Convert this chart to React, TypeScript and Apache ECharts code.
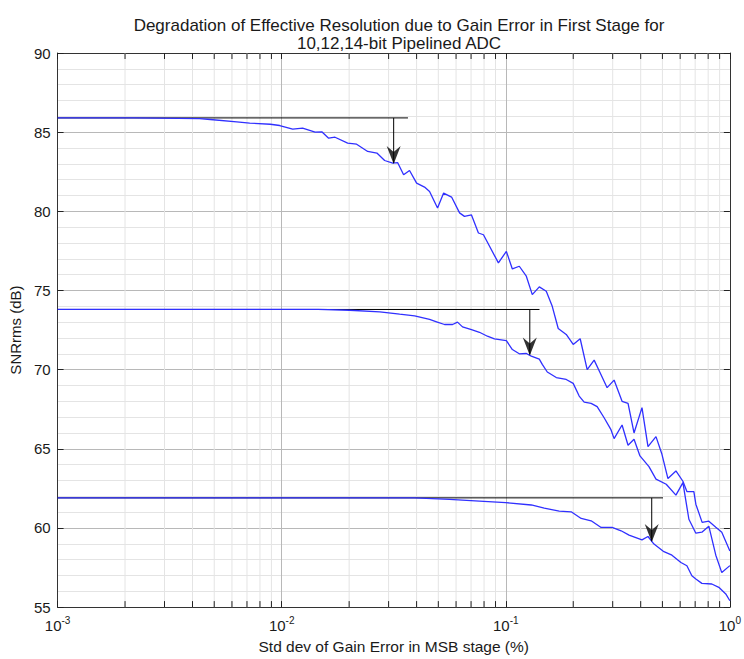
import React, { useEffect, useRef } from "react";
import * as echarts from "echarts";

// Std dev of gain error (%) and SNR (dB) for each resolution
const x14 = [0.001, 0.0022, 0.0043, 0.0048, 0.0063, 0.0072, 0.0089, 0.0098, 0.0112, 0.0124, 0.0141, 0.0151, 0.0162, 0.0173, 0.0197, 0.0216, 0.0242, 0.0266, 0.0288, 0.0313, 0.0329, 0.035, 0.0372, 0.04, 0.0434, 0.0457, 0.0496, 0.0528, 0.0573, 0.0622, 0.0654, 0.0703, 0.0755, 0.0795, 0.0927, 0.1006, 0.107, 0.1149, 0.1235, 0.1313, 0.1411, 0.1516, 0.1612, 0.1714, 0.1861, 0.1999, 0.2148, 0.2308, 0.2479, 0.2636, 0.2833, 0.3043, 0.3303, 0.3512, 0.3735, 0.4053, 0.4311, 0.468, 0.4976, 0.5292, 0.5745, 0.6172, 0.643, 0.6907, 0.705, 0.752, 0.8055, 0.8654, 0.9202, 1.0];
const snr14 = [85.9, 85.9, 85.85, 85.8, 85.65, 85.57, 85.5, 85.42, 85.19, 85.25, 85.0, 85.02, 84.62, 84.68, 84.31, 84.24, 83.78, 83.68, 83.21, 83.05, 83.08, 82.31, 82.58, 81.78, 81.53, 81.25, 80.21, 81.15, 80.9, 79.9, 79.68, 79.77, 78.63, 78.52, 76.74, 77.47, 76.36, 76.53, 75.9, 74.74, 75.23, 74.95, 74.0, 72.6, 72.22, 71.59, 71.95, 70.0, 70.6, 69.8, 68.86, 69.34, 68.0, 67.87, 66.0, 67.6, 65.14, 65.77, 64.65, 63.12, 63.6, 62.95, 62.3, 62.3, 61.5, 60.35, 60.43, 60.05, 59.73, 58.54];

const x12 = [0.001, 0.0145, 0.0201, 0.0274, 0.0336, 0.0392, 0.0457, 0.0491, 0.0533, 0.0579, 0.0609, 0.0641, 0.0703, 0.0763, 0.0828, 0.089, 0.1006, 0.107, 0.1149, 0.1235, 0.13, 0.1411, 0.1455, 0.1532, 0.168, 0.1861, 0.1999, 0.2126, 0.2238, 0.2404, 0.2557, 0.2747, 0.2942, 0.3043, 0.3303, 0.3512, 0.3735, 0.397, 0.4355, 0.468, 0.52, 0.5745, 0.6172, 0.6563, 0.705, 0.7499, 0.8055, 0.8654, 0.9202, 1.0];
const snr12 = [73.8, 73.8, 73.75, 73.65, 73.5, 73.4, 73.17, 73.02, 72.85, 72.85, 73.0, 72.7, 72.53, 72.36, 72.11, 71.94, 71.83, 71.27, 71.0, 71.02, 70.85, 70.66, 70.33, 69.85, 69.5, 69.38, 69.13, 68.33, 67.95, 67.87, 67.66, 66.96, 66.23, 65.64, 66.5, 65.22, 65.6, 64.55, 63.87, 63.08, 62.76, 62.07, 62.86, 60.55, 59.67, 59.73, 60.11, 58.28, 57.18, 57.62];

const x10 = [0.001, 0.0392, 0.0561, 0.0763, 0.1, 0.13, 0.1485, 0.1732, 0.1958, 0.217, 0.2404, 0.2663, 0.2981, 0.327, 0.3549, 0.4053, 0.4311, 0.4585, 0.5078, 0.5514, 0.6047, 0.643, 0.6767, 0.705, 0.7499, 0.8305, 0.8925, 0.9587, 1.0];
const snr10 = [61.9, 61.9, 61.8, 61.7, 61.6, 61.45, 61.25, 61.06, 61.02, 60.6, 60.45, 60.03, 60.03, 59.82, 59.55, 59.25, 59.46, 58.98, 58.5, 58.28, 57.82, 57.61, 56.98, 56.77, 56.5, 56.46, 56.25, 55.83, 55.4];

// Ideal SNR levels, the -3 dB markers and where the reference lines end
const idealSnr = [85.9, 73.8, 61.9];
const refLineEnd = [0.0366, 0.1414, 0.503];
const arrowX = [0.0316, 0.128, 0.448];
const arrowTip = [83.05, 70.96, 59.18];

const xMin = 0.001;
const xMax = 1;
const yMin = 55;
const yMax = 90;

// Log-axis minor ticks (2..9 within each decade)
const minorTicks: number[] = [];
for (const decade of [0.001, 0.01, 0.1]) {
  for (let m = 2; m <= 9; m++) minorTicks.push(+(m * decade).toPrecision(3));
}

const FONT = "'Liberation Sans', Arial, Helvetica, sans-serif";
const BLUE = "#3030ff";
const TEXT = "#1a1a1a";

export default function App() {
  const ref = useRef<HTMLDivElement>(null);

  useEffect(() => {
    if (!ref.current) return;
    const chart = echarts.init(ref.current, null, { renderer: "svg" });

    const curves = [
      [x14, snr14],
      [x12, snr12],
      [x10, snr10],
    ];

    const series: any[] = [];

    // Minor log grid lines plus their short inside ticks on top and bottom
    series.push({
      type: "custom",
      silent: true,
      z: 1,
      clip: false,
      data: minorTicks.map((v) => [v, yMin]),
      encode: { x: 0, y: 1 },
      renderItem: (_p: any, api: any) => {
        const v = api.value(0);
        const top = api.coord([v, yMax]);
        const bot = api.coord([v, yMin]);
        return {
          type: "group",
          children: [
            { type: "line", shape: { x1: top[0], y1: top[1], x2: bot[0], y2: bot[1] }, style: { stroke: "#e4e4e4", lineWidth: 1 } },
            { type: "line", shape: { x1: bot[0], y1: bot[1], x2: bot[0], y2: bot[1] - 6 }, style: { stroke: "#222", lineWidth: 1 } },
            { type: "line", shape: { x1: top[0], y1: top[1], x2: top[0], y2: top[1] + 6 }, style: { stroke: "#222", lineWidth: 1 } },
          ],
        };
      },
    });

    // Black reference lines at the ideal SNR, with the arrow shafts
    idealSnr.forEach((lvl, i) => {
      series.push({
        type: "line",
        z: 2,
        silent: true,
        showSymbol: false,
        data: [
          [xMin, lvl],
          [refLineEnd[i], lvl],
        ],
        lineStyle: { color: "#000", width: 1 },
      });
      series.push({
        type: "line",
        z: 4,
        silent: true,
        showSymbol: false,
        data: [
          [arrowX[i], lvl],
          [arrowX[i], arrowTip[i]],
        ],
        lineStyle: { color: "#000", width: 1 },
      });
    });

    // SNR curves
    curves.forEach(([xs, ys]) => {
      series.push({
        type: "line",
        z: 3,
        silent: true,
        showSymbol: false,
        data: xs.map((v, k) => [v, ys[k]]),
        lineStyle: { color: BLUE, width: 1.3 },
      });
    });

    // Arrow heads at the -3 dB points
    series.push({
      type: "scatter",
      z: 5,
      silent: true,
      symbol: "path://M0,0 L7,6 L14,0 L7,18 Z",
      symbolSize: [14, 18],
      symbolOffset: [0, -8],
      itemStyle: { color: "#000" },
      data: arrowX.map((v, i) => [v, arrowTip[i]]),
    });

    const axisLineStyle = { color: "#333", width: 1 };

    chart.setOption({
      animation: false,
      backgroundColor: "#fff",
      title: {
        text: "Degradation of Effective Resolution due to Gain Error in First Stage for\n10,12,14-bit Pipelined ADC",
        left: 394,
        textAlign: "center",
        top: 11,
        textStyle: { fontFamily: FONT, fontSize: 17, fontWeight: "normal", color: TEXT, lineHeight: 18 },
      },
      grid: { left: 57, right: 13, top: 53, bottom: 50, containLabel: false },
      xAxis: [
        {
          type: "log",
          logBase: 10,
          min: xMin,
          max: xMax,
          position: "bottom",
          name: "Std dev of Gain Error in MSB stage (%)",
          nameLocation: "middle",
          nameGap: 30,
          nameTextStyle: { fontFamily: FONT, fontSize: 15.5, color: TEXT },
          axisLine: { show: true, onZero: false, lineStyle: axisLineStyle },
          axisTick: { show: true, inside: true, length: 6, lineStyle: { color: "#222" } },
          axisLabel: {
            margin: 8,
            formatter: (v: number) => "{b|10}{s|" + Math.round(Math.log10(v)) + "}",
            rich: {
              b: { fontFamily: FONT, fontSize: 15, color: TEXT, lineHeight: 18, verticalAlign: "bottom" },
              s: { fontFamily: FONT, fontSize: 10, color: TEXT, lineHeight: 18, verticalAlign: "top", padding: [0, 0, 8, 0] },
            },
          },
          splitLine: { show: true, lineStyle: { color: "#b8b8b8", width: 1 } },
        },
        {
          type: "log",
          logBase: 10,
          min: xMin,
          max: xMax,
          position: "top",
          axisLine: { show: true, onZero: false, lineStyle: axisLineStyle },
          axisTick: { show: true, inside: true, length: 6, lineStyle: { color: "#222" } },
          axisLabel: { show: false },
          splitLine: { show: false },
        },
      ],
      yAxis: [
        {
          type: "value",
          min: yMin,
          max: yMax,
          interval: 5,
          position: "left",
          name: "SNRrms (dB)",
          nameLocation: "middle",
          nameGap: 32,
          nameTextStyle: { fontFamily: FONT, fontSize: 15, color: TEXT },
          axisLine: { show: true, onZero: false, lineStyle: axisLineStyle },
          axisTick: { show: true, inside: true, length: 6, lineStyle: { color: "#222" } },
          axisLabel: { fontFamily: FONT, fontSize: 15, color: TEXT, margin: 7 },
          splitLine: { show: true, lineStyle: { color: "#b8b8b8", width: 1 } },
          minorTick: { show: false, splitNumber: 5 },
          minorSplitLine: { show: true, lineStyle: { color: "#e4e4e4", width: 1 } },
        },
        {
          type: "value",
          min: yMin,
          max: yMax,
          interval: 5,
          position: "right",
          axisLine: { show: true, onZero: false, lineStyle: axisLineStyle },
          axisTick: { show: true, inside: true, length: 6, lineStyle: { color: "#222" } },
          axisLabel: { show: false },
          splitLine: { show: false },
        },
      ],
      series,
    });

    return () => chart.dispose();
  }, []);

  return <div ref={ref} style={{ position: "absolute", left: 0, top: 0, width: 744, height: 659 }} />;
}
